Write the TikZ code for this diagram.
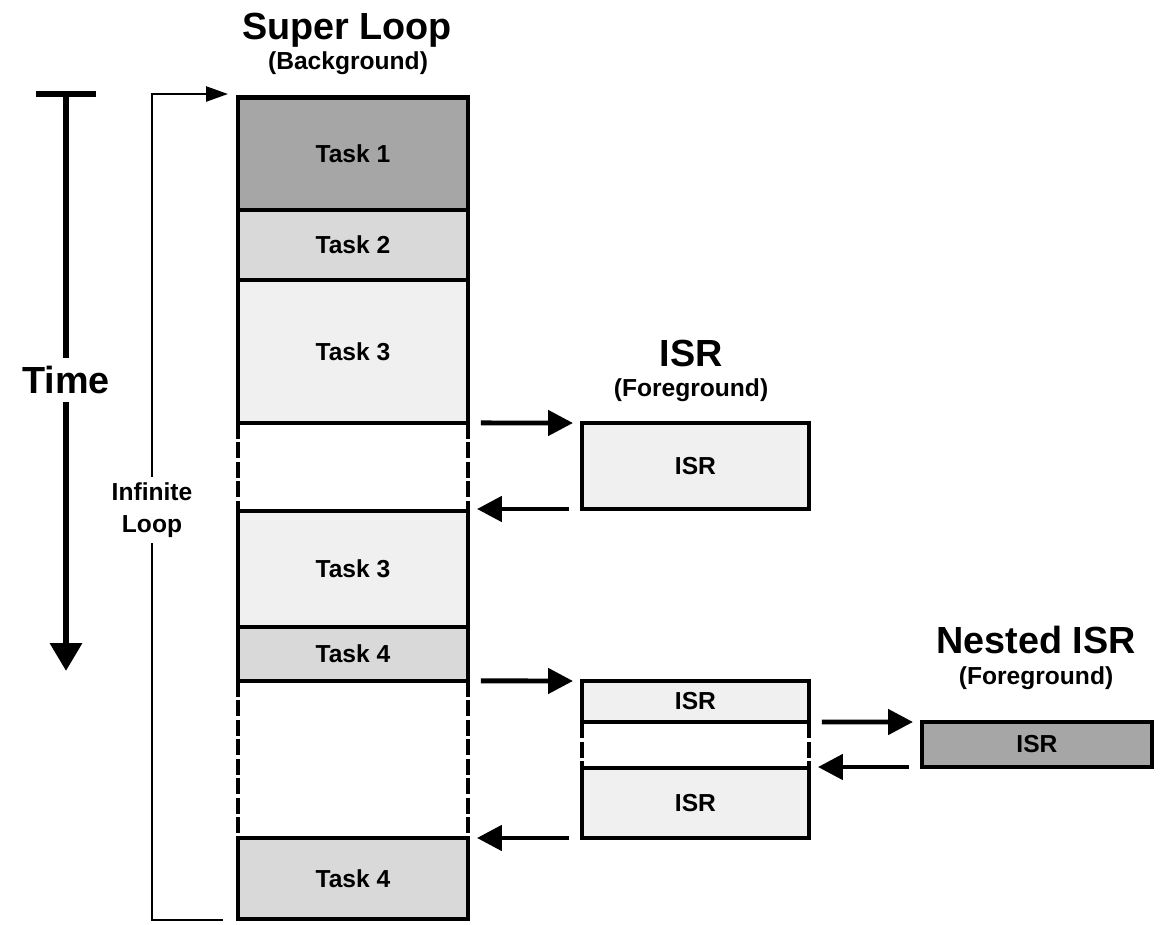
\documentclass[tikz,border=0pt]{standalone}
\usepackage{fontspec}
\setmainfont{Liberation Sans}
\usetikzlibrary{positioning,arrows.meta}
\definecolor{taskdark}{HTML}{A6A6A6}
\definecolor{taskmid}{HTML}{D9D9D9}
\definecolor{tasklight}{HTML}{F0F0F0}
\tikzset{
    slot/.style={draw, line width=2.6pt, inner sep=0pt, outer sep=0pt, minimum width=4.6cm, font=\bfseries\fontsize{14}{16}\selectfont},
    gapslot/.style={inner sep=0pt, outer sep=0pt, minimum width=4.6cm},
    gapside/.style={line width=2.6pt, dash pattern=on 0.32cm off 0.07cm},
    callarrow/.style={line width=2.8pt, -{Triangle[length=0.5cm,width=0.5cm]}, shorten <=0.26cm, shorten >=0.18cm},
    heading/.style={anchor=base, font=\bfseries\fontsize{21.5}{24}\selectfont},
    subheading/.style={anchor=base, font=\bfseries\fontsize{14}{16}\selectfont},
    timeline/.style={line width=3.7pt},
    loopline/.style={line width=1.4pt},
}
\begin{document}
\begin{tikzpicture}[x=0.02cm, y=-0.02cm]
    \useasboundingbox (0,0) rectangle (1166,924);

    % super loop (background)
    \node[heading] (sltitle) at (347,39) {Super Loop};
    \node[subheading] (slsub) at (348,69) {(Background)};
    \node[slot, fill=taskdark, anchor=north west, minimum height=2.25cm] (t1) at (238,97.5) {Task 1};
    \node[slot, fill=taskmid, minimum height=1.4cm, below=0pt of t1] (t2) {Task 2};
    \node[slot, fill=tasklight, minimum height=2.86cm, below=0pt of t2] (t3) {Task 3};
    \node[gapslot, minimum height=1.76cm, below=0pt of t3] (g1) {};
    \node[slot, fill=tasklight, minimum height=2.32cm, below=0pt of g1] (t3b) {Task 3};
    \node[slot, fill=taskmid, minimum height=1.08cm, below=0pt of t3b] (t4) {Task 4};
    \node[gapslot, minimum height=3.14cm, below=0pt of t4] (g2) {};
    \node[slot, fill=taskmid, minimum height=1.62cm, below=0pt of g2] (t4b) {Task 4};

    % isr (foreground)
    \node[heading] (isrtitle) at (691,366) {ISR};
    \node[subheading] (isrsub) at (691,396) {(Foreground)};
    \node[slot, fill=tasklight, anchor=north west, minimum width=4.54cm, minimum height=1.72cm] (isr1) at (582,423) {ISR};
    \node[slot, fill=tasklight, anchor=north west, minimum width=4.54cm, minimum height=0.82cm] (isr2) at (582,681) {ISR};
    \node[gapslot, minimum width=4.54cm, minimum height=0.92cm, below=0pt of isr2] (g3) {};
    \node[slot, fill=tasklight, minimum width=4.54cm, minimum height=1.4cm, below=0pt of g3] (isr3) {ISR};

    % nested isr
    \node[heading] (nesttitle) at (1036,653) {Nested ISR};
    \node[subheading] (nestsub) at (1036,684) {(Foreground)};
    \node[slot, fill=taskdark, anchor=north west, minimum height=0.9cm] (nisr) at (922,722) {ISR};

    \foreach \g in {g1,g2,g3} {
        \draw[gapside] (\g.north west) -- (\g.south west);
        \draw[gapside] (\g.north east) -- (\g.south east);
    }

    \draw[callarrow] (t3.south east) -- (isr1.north west);
    \draw[callarrow] (isr1.south west) -- (isr1.south west -| t3b.east);
    \draw[callarrow] (t4.south east) -- (isr2.north west);
    \draw[callarrow] (isr2.south east) -- (nisr.north west);
    \draw[callarrow] (nisr.south west) -- (nisr.south west -| isr3.east);
    \draw[callarrow] (isr3.south west) -- (isr3.south west -| t4b.east);

    % time axis
    \coordinate (timetop) at (66,94);
    \coordinate (timeend) at (66,671);
    \node[inner sep=4.5pt, font=\bfseries\fontsize{21.5}{24}\selectfont] (time) at (66,380) {Time};
    \draw[timeline] ([xshift=-0.6cm]timetop) -- ([xshift=0.6cm]timetop);
    \draw[timeline] (timetop) -- (time.north);
    \draw[timeline, -{Triangle[length=0.56cm,width=0.62cm]}] (time.south) -- (timeend);

    % infinite loop bracket
    \coordinate (looptop) at (152,94);
    \coordinate (loopbot) at (152,920);
    \node[inner sep=3.2pt, align=center, font=\bfseries\fontsize{14}{18}\selectfont] (loop) at (152,510) {Infinite\\Loop};
    \draw[loopline, -{Triangle[length=0.44cm,width=0.3cm]}, shorten >=0.2cm] (loop.north) -- (looptop) -- (looptop -| t1.west);
    \draw[loopline] (loop.south) -- (loopbot) -- ([xshift=-0.3cm]loopbot -| t4b.west);
\end{tikzpicture}
\end{document}
